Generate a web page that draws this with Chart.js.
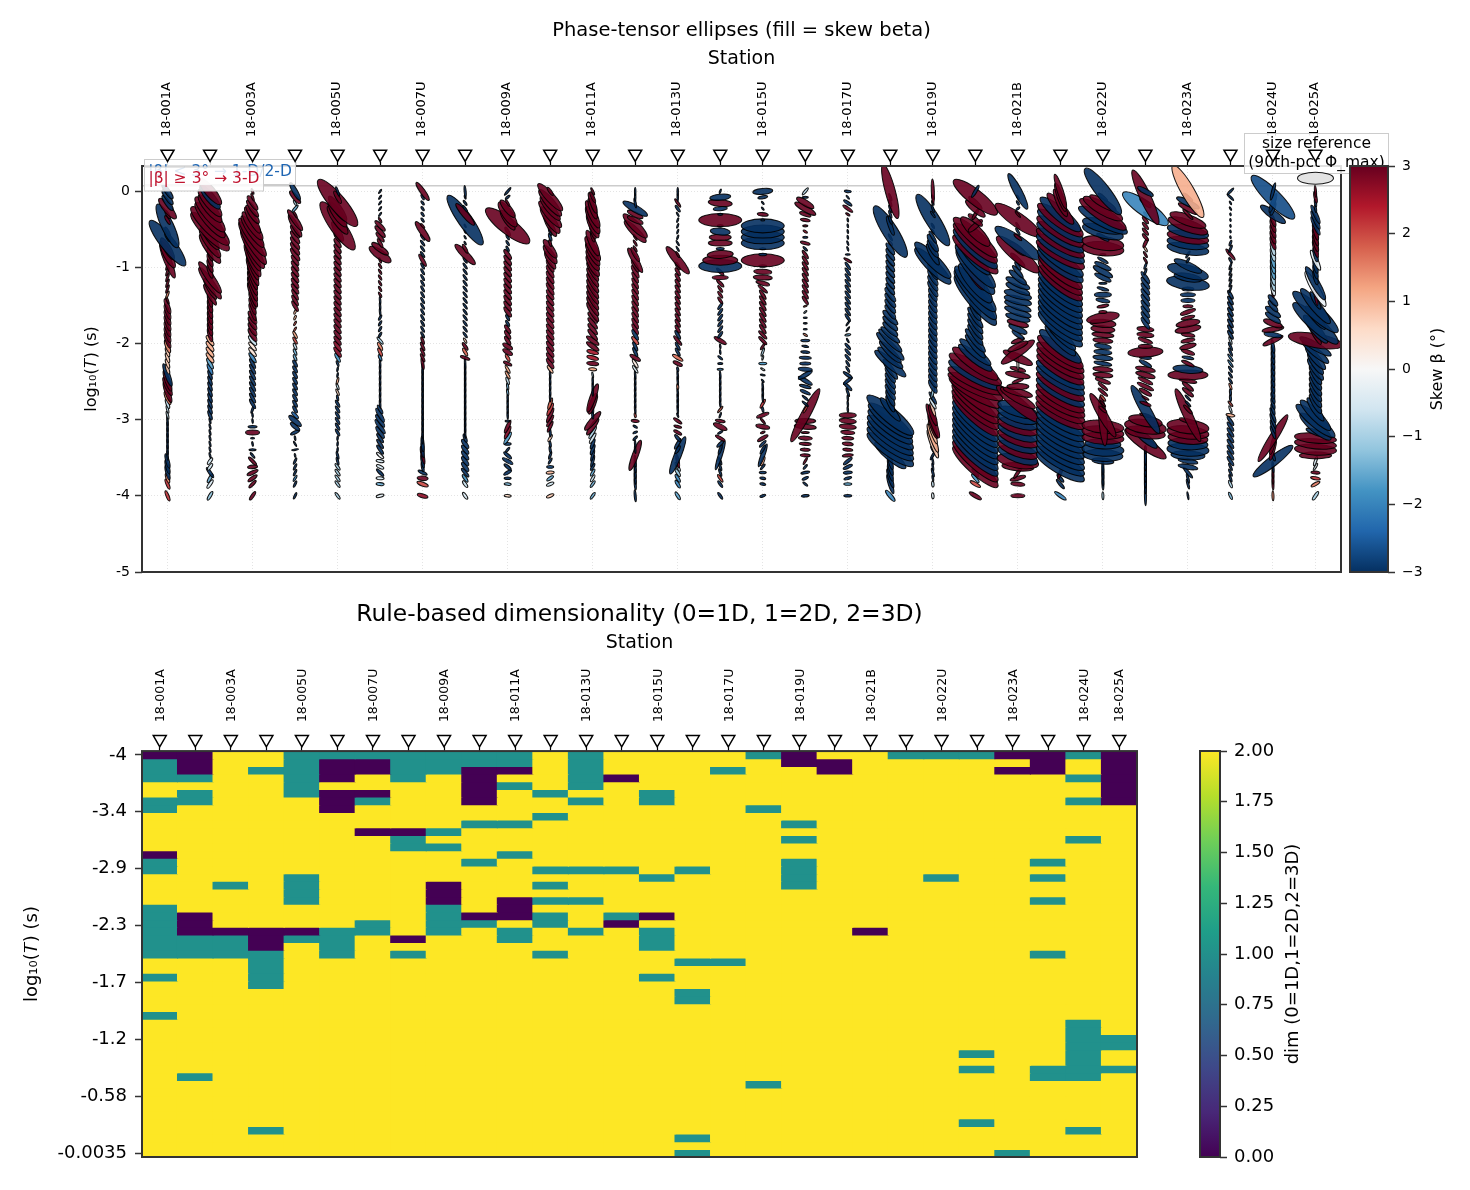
<!DOCTYPE html>
<html>
<head>
<meta charset="utf-8">
<title>Phase tensor</title>
<script src="https://cdn.jsdelivr.net/npm/chart.js@4/dist/chart.umd.min.js"></script>
<style>
  html, body { margin:0; padding:0; background:#fff; overflow:hidden; }
  #wrap { position:relative; width:1470px; height:1190px; }
  canvas { position:absolute; display:block; }
</style>
</head>
<body>
<div id="wrap">
  <canvas id="phase" width="1470" height="600" style="left:0;top:0"></canvas>
  <canvas id="phaseBar" width="125" height="600" style="left:1345px;top:0"></canvas>
  <canvas id="dim" width="1190" height="600" style="left:0;top:590px"></canvas>
  <canvas id="dimBar" width="280" height="600" style="left:1190px;top:590px"></canvas>
</div>
<script>
const stationTicks = ['18-001A','','18-003A','','18-005U','','18-007U','','18-009A','','18-011A','','18-013U','','18-015U','','18-017U','','18-019U','','18-021B','','18-022U','','18-023A','','18-024U','18-025A'];
const ellipseYTicks = [-5,-4,-3,-2,-1,0];
const skewTicks = [-3,-2,-1,0,1,2,3];
const dimTickRows = [0,7.43,14.86,22.29,29.71,37.14,44.57,52];
const dimTickLabels = ['-4','-3.4','-2.9','-2.3','-1.7','-1.2','-0.58','-0.0035'];

/* log10 T of each row, top of the ellipse panel first */
const logT = [-0.0035,-0.08,-0.155,-0.23,-0.305,-0.38,-0.456,-0.531,-0.606,-0.682,-0.757,-0.832,-0.908,-0.983,-1.058,-1.134,-1.209,-1.284,-1.36,-1.435,-1.51,-1.586,-1.661,-1.736,-1.812,-1.887,-1.962,-2.038,-2.113,-2.188,-2.264,-2.339,-2.414,-2.49,-2.565,-2.64,-2.716,-2.791,-2.866,-2.942,-3.017,-3.092,-3.168,-3.243,-3.318,-3.394,-3.469,-3.544,-3.62,-3.695,-3.77,-3.846,-4];

/* per station: [first row, phi max, phi min, tilt, skew], holds until the next entry */
const st00 = [[0,18,5,55,-3],[3,26,8,50,3],[4,10,3,60,3],[6,48,12,65,-3],[7,10,3,60,-3],[9,57,14,52,-3],[10,25,7,60,3],[11,30,8,62,3],[12,38,7,68,3],[13,9,2,-70,3],[18,8,2,-70,1.5],[19,8,2,70,3],[20,16,4,70,3],[27,14,4,70,1.5],[28,10,3,70,0.8],[32,24,5,70,-3],[33,22,5,70,3],[34,20,5,65,3],[35,22,5,70,3],[36,14,4,65,1.6],[37,10,3,70,-0.8],[38,8,2,75,-0.8],[40,10,1.5,85,-3],[47,15,3.5,75,-3],[50,10,3,70,1.5],[51,11,3,68,2.2]];
const st01 = [[0,34,10,50,3],[1,30,9,50,-3],[2,35,10,50,3],[4,45,12,50,3],[6,53,14,45,3],[8,30,8,55,3],[9,35,9,55,3],[11,14,4,70,3],[15,38,8,55,3],[17,24,5,60,3],[19,14,4,75,3],[26,12,4,55,1.1],[30,12,3.5,60,-1.6],[31,12,3.5,65,-2.2],[32,10,3,70,-3],[40,6,1.5,75,-3],[47,8,3,-55,-0.6],[49,12,3,55,-3],[50,10,3,-60,-1.5],[51,10,3,-55,-0.5],[52,10,3,-60,-1.2]];
const st02 = [[0,6,2,70,3],[1,8,2,70,3],[2,17,5,55,3],[3,20,5,55,3],[4,22,6,55,3],[5,30,7,60,3],[6,34,9,55,3],[7,38,9,55,3],[8,46,10,55,3],[9,50,10,58,3],[10,45,10,60,3],[11,36,8,65,3],[13,30,6,68,3],[15,26,5,70,3],[19,18,4,70,3],[22,15,5,60,3],[26,12,4,50,-0.7],[27,11,3.5,50,0.4],[29,12,3.5,55,-2],[30,11,3,60,-3],[38,8,2,-70,-3],[39,5,1.5,85,-3],[41,9,2.5,0,-3],[42,14,5,0,3],[43,4,1.5,0,-3],[44,5,1.5,80,-3],[45,7,2,0,-3],[46,7,2,50,-3],[47,11,3,45,3],[48,10,3.5,-5,3],[49,12,3.5,-25,3],[50,11,3.5,-35,3],[51,10,3,-45,3],[52,10,3,-55,3]];
const st03 = [[0,20,5,60,-3],[1,16,5,50,3],[2,6,2,60,-1],[3,9,2.5,-50,-1.5],[4,8,2,60,3],[5,25,6,55,3],[6,25,6,60,3],[7,15,4.5,55,3],[12,12,4,55,3],[18,12,3.5,60,3],[21,5,2,-65,1],[23,5,1.8,-60,2],[25,8,2.5,60,1.2],[26,8,2.5,60,2],[27,7,2.5,65,-0.8],[28,7,2.5,65,-1.5],[30,8,3,60,-3],[39,9,3,45,-2.5],[40,16,5,40,-3],[41,12,4,40,-3],[42,10,3,-25,-3],[43,5,1.5,80,-3],[44,6,1.5,60,-3],[45,7,1.5,-10,-3],[46,4,1.5,80,-3],[47,7,2,-65,-3],[50,7,2,-60,-2],[51,7,2,-65,-3]];
const st04 = [[0,10,2,70,-3],[1,14,4,60,3],[2,60,16,50,3],[3,30,8,55,3],[4,30,9,55,3],[5,34,9,55,3],[6,58,15,55,3],[7,22,6,60,3],[8,11,4,55,3],[27,12,4,55,2.8],[29,10,3,60,-1.8],[30,6,2,70,-3],[31,5,1.5,-80,-3],[33,7,2,-75,1.2],[34,7,2,70,-0.8],[35,7,2,65,0.7],[36,6,2,80,-3],[37,8,2.5,60,-3],[43,5,1.5,-85,-3],[46,8,2,75,-3],[48,8,2.5,55,-1]];
const st05 = [[0,5,1.5,-55,-3],[5,6,2,60,3],[6,14,4,45,3],[7,15,4.5,50,3],[8,12,3.5,50,3],[9,10,3,60,3],[10,20,6,35,3],[11,26,9,35,3],[12,6,2,70,3],[13,6,2,60,3],[19,8,1.5,85,-3],[22,6,2,-60,-3],[26,9,2.5,50,-1],[27,9,3,60,1.5],[28,9,3,65,2],[29,7,2.5,65,-2],[30,9,1.5,85,-3],[38,10,3,60,-3],[39,16,4,60,-3],[40,15,4,55,-3],[41,17,4,55,-3],[42,14,4,55,-3],[43,11,3,55,-3],[46,9,3,40,-0.2],[47,8,3,10,-0.5],[48,8,3,25,-0.5],[49,10,3,45,-3],[50,8,3,5,-0.5],[51,8,3,5,-1.5],[52,8,3,-15,-0.3]];
const st06 = [[0,22,5,55,3],[1,6,2,60,-3],[2,5,2,55,-3],[6,6,2,50,3],[7,24,6,55,3],[8,7,2,55,-3],[12,14,3.5,60,3],[13,7,2,60,-3],[26,8,2.5,70,3],[27,9,2.5,65,3],[30,12,2.5,80,3],[31,12,1.5,88,-3],[44,16,3,85,-3],[46,18,3,78,3],[47,14,3,80,-3],[48,10,2.5,80,-3],[49,10,3,25,-3],[50,11,4.5,5,3],[51,12,4,20,2],[52,11,4,15,2.7]];
const st07 = [[0,12,2,85,-3],[1,4,1.5,70,-3],[2,6,2,55,-3],[3,8,2,55,-3],[4,28,6,50,3],[5,60,14,55,-3],[6,4,1.5,60,-3],[10,10,3,60,3],[11,28,7,45,3],[12,7,2,55,-3],[26,6,2,60,0.8],[27,9,3,55,3],[28,9,3,60,1.8],[29,10,3,20,3],[30,12,1.5,88,-3],[43,9,3,70,-3],[44,11,4,55,-3],[49,11,3,50,-3],[50,9,3,55,-1.8],[51,8,3,55,-0.7],[52,8,3,55,-0.5]];
const st08 = [[0,10,2,-50,-3],[1,6,2,-40,-3],[2,8,2,60,3],[3,22,7,50,3],[4,30,10,55,3],[5,24,7,55,3],[6,55,16,38,3],[7,10,3,60,3],[8,6,2,60,-3],[11,12,4,55,3],[22,7,2.5,60,-3],[24,10,3.5,55,3],[27,11,4.5,30,3],[29,8,3,60,2],[30,9,3,25,3],[31,9,2.5,60,1.2],[33,8,2.5,70,-0.8],[34,7,2,80,-1.5],[36,8,1.5,88,-3],[40,5,2,0,-3],[41,14,3.5,-65,3],[42,14,3.5,-65,2.8],[43,14,3.5,-60,-1.7],[44,7,2.5,0,-2.5],[45,6,2,-50,-3],[46,10,3,40,-3],[47,12,3.5,30,-3],[48,9,3,40,-3],[49,9,3,-30,-3],[50,7,2.5,0,-3],[51,7,2.5,5,-1.4],[52,7,2.5,5,0.6]];
const st09 = [[0,10,3,55,3],[1,36,9,48,3],[2,34,9,50,3],[3,30,8,50,3],[4,34,9,50,3],[5,32,9,55,3],[6,24,6,60,3],[7,8,2.5,70,-3],[9,7,2.5,75,3],[10,22,7,55,3],[12,20,6,60,3],[13,14,4,60,3],[18,12,4,55,3],[31,9,3,55,1],[32,8,1.5,85,-3],[37,12,3,-70,1.8],[38,14,3.5,-65,2.2],[39,16,3.5,-65,3],[40,13,3,-60,3],[41,12,3,-65,3],[42,9,2,85,-3],[43,8,2.5,-60,0.7],[44,7,2,80,-3],[46,8,2,-70,-3],[47,7,2,-60,-3],[48,7,2.5,0,-2.5],[49,8,3,-5,1],[50,8,3,-35,-1.5],[51,8,3,-25,-0.6],[52,8,3,-25,0.8]];
const st10 = [[0,8,2,65,3],[1,12,3,65,3],[2,22,5,70,3],[3,22,6,70,3],[4,30,8,65,3],[6,26,7,65,3],[7,16,4,70,3],[8,10,3,70,3],[9,28,7,65,3],[10,28,8,60,3],[11,26,7,60,3],[12,24,7,60,3],[14,22,5,60,3],[22,14,4,50,3],[26,15,4.5,35,3],[28,12,4,15,2.5],[30,12,4,5,3],[31,8,3,5,1.2],[32,6,1.5,80,-1],[33,8,1.5,88,-3],[36,30,6,-70,3],[37,22,6,-70,3],[38,8,2,85,-3],[40,24,6,-50,3],[41,20,5,-55,3],[42,14,3,-60,-1],[43,12,3,-60,-0.6],[44,11,3,-70,-3],[46,12,2.5,-75,-3],[48,8,2.5,-60,-3],[49,8,2.5,-60,-1.6],[50,8,2.5,-60,-0.7],[51,8,2.5,-55,-1.5]];
const st11 = [[0,8,1.5,90,-3],[2,10,2,80,-3],[3,28,7,30,-3],[4,17,5,25,3],[6,33,9,45,3],[7,30,8,45,3],[8,7,2,60,3],[11,16,4,60,3],[12,28,6,60,3],[13,14,4,60,3],[15,12,3.5,60,3],[25,12,3.5,60,-3],[26,10,3.5,50,2],[27,10,3,65,-3],[29,12,4,30,3],[30,10,3,60,0.3],[31,9,2.5,55,-0.5],[32,9,1.5,85,-3],[39,5,2,80,2],[40,8,3,5,3],[41,5,2,30,-3],[42,5,2,-25,-3],[43,6,2,-45,-3],[44,8,1.5,85,-3],[46,32,6,-70,3],[47,12,2,85,-3]];
const st12 = [[0,8,1.5,90,-3],[2,10,2.5,55,3],[3,8,2.5,55,-3],[4,5,1.5,60,-3],[5,5,1.5,-70,-3],[9,6,1.5,60,-3],[11,7,2,60,3],[12,35,8,50,3],[13,9,3,60,3],[25,10,3,60,-3],[26,12,3,50,3],[27,9,2.5,60,-3],[29,12,3.5,30,1.7],[30,10,3.5,25,3],[31,5,2,80,-3],[32,9,1.5,85,-3],[34,6,2,85,1.5],[35,9,1.5,85,-3],[39,5,1.5,70,-3],[40,10,3,35,3],[41,8,2.5,15,3],[42,9,3,30,3],[43,9,3,50,-3],[44,12,3,-60,-3],[45,9,3,-60,-3],[46,40,7,-68,-3],[47,14,3,80,3],[48,10,2.5,60,-1],[49,9,3,60,-1.2],[50,9,3,60,-2],[52,9,3,60,-1.6]];
const st13 = [[0,5,1.5,-70,-3],[1,21,6,-5,-3],[2,24,7,5,3],[3,14,4,-5,-3],[4,5,2,0,-3],[5,43,13,0,3],[6,6,2.5,0,-3],[7,20,7,5,-3],[8,22,6,0,3],[9,24,6,0,3],[10,8,2.5,0,-3],[11,26,8,-3,3],[12,35,10,0,3],[13,43,13,0,-3],[14,10,3,45,3],[15,16,4,0,3],[16,10,3,45,3],[17,8,2.5,55,3],[20,8,2.5,-55,-3],[26,14,4,30,3],[27,5,1.5,85,-3],[29,6,2,40,-3],[30,5,2,0,-3],[31,6,2,0,-2],[32,8,1.5,85,-3],[38,8,2,-50,1.8],[39,6,1.5,-70,-3],[40,10,3,10,3],[41,15,5,25,3],[42,6,2,-30,-3],[43,11,3,30,3],[44,9,3,-45,-3],[45,10,2.5,-70,-3],[46,30,4,-72,-3],[47,8,2,70,-3],[50,9,2.5,55,2],[51,8,2.5,55,-3]];
const st14 = [[0,20,6,-5,-3],[1,10,3,-10,-3],[2,4,1.5,50,-3],[4,11,3.5,5,3],[5,4,2,0,-3],[6,43,14,0,-3],[7,43,13,0,-3],[10,6,2,0,-3],[11,8,2.5,0,-3],[12,43,13,0,3],[13,8,2.5,0,-3],[14,18,5,3,3],[15,19,5,3,3],[16,14,4,15,3],[17,12,3,40,3],[18,11,3,55,3],[25,11,3,45,3],[27,8,2,-55,3],[28,9,2,-70,-1],[29,5,1.5,-75,-0.7],[30,8,2.5,0,-1.8],[31,5,1.5,30,-0.5],[32,5,1.5,10,-3],[33,4,1.5,50,-3],[34,9,1.5,85,-3],[37,10,2.5,-60,2.2],[38,6,2,80,-3],[39,13,3.5,-20,3],[40,8,2,50,3],[41,14,4.5,10,3],[42,5,2,-20,3],[43,12,3.5,-30,3],[44,9,2.5,-45,-3],[45,10,2.5,-60,-3],[46,24,4,-70,-3],[47,10,3,-70,1.2],[48,7,2,-50,-3],[49,7,2.5,0,-3],[50,6,2.5,10,-3],[52,6,2.5,-20,-3]];
const st15 = [[0,9,2.5,-50,-0.8],[1,6,2,0,-3],[2,20,6,30,3],[3,24,6,30,3],[4,12,3.5,20,3],[5,10,3,10,3],[6,5,2,0,3],[7,5,2,30,2.5],[8,5,2,0,-3],[9,10,3,15,3],[10,6,2,45,-3],[11,10,3,55,3],[20,4,1.5,-20,1.8],[21,4,1.5,-40,-1],[22,4,1.5,0,-3],[25,5,2,30,1.5],[26,9,2.5,0,-3],[27,7,2,10,-3],[28,9,2.5,5,-3],[29,12,3,3,-3],[30,11,3,0,-3],[31,14,4,5,-3],[32,16,4,-30,-3],[33,16,4,30,-3],[34,12,3,15,-3],[35,11,3,25,-3],[36,8,2,40,-3],[38,8,2,-60,2],[39,60,9,-62,3],[40,21,5,0,3],[41,22,5,5,3],[42,8,2,0,3],[43,14,4,3,3],[44,12,3,3,3],[45,10,3,3,3],[47,8,2,-60,3],[48,6,2,-50,-3],[49,9,2.5,-10,-3],[50,7,2.5,-25,-3],[51,6,2,40,-3],[52,8,2.5,-5,-3]];
const st16 = [[0,7,2.5,5,-3],[1,5,1.5,50,-3],[2,10,3,35,-3],[3,12,3,35,3],[4,5,2,30,3],[5,4,1.5,80,-3],[9,5,1.5,70,-3],[11,5,1.5,0,-3],[12,9,2.5,30,3],[13,9,2.5,55,-3],[23,6,1.5,-55,-3],[25,6,2,-10,-1.5],[26,5,1.5,60,-3],[27,8,2.5,50,-3],[30,7,2,60,-3],[32,11,3,35,-3],[33,11,3,-40,-3],[34,11,3,45,-3],[35,9,2,70,-3],[36,6,1.5,85,-3],[39,17,5,0,3],[40,17,5,5,3],[42,14,4,5,3],[43,12,3.5,3,3],[44,11,3.5,5,3],[45,10,3,5,3],[46,11,3,-5,3],[47,11,3,-40,-3],[48,10,3,-25,-3],[49,9,3,-5,-3],[50,8,2.5,-15,-3],[51,8,2.5,0,-1.6],[52,8,2.5,0,-3]];
const st17 = [[0,56,10,75,3],[1,8,2,70,-3],[5,9,2.5,70,-3],[6,20,4,70,-3],[7,60,15,58,-3],[8,8,2,60,-3],[9,6,2.5,50,2],[10,14,4.5,55,-3],[18,17,5,55,-3],[22,20,6,45,-3],[25,24,6,40,-3],[26,32,7,45,-3],[27,38,8,45,-3],[28,30,7,45,-3],[29,32,8,40,-3],[30,40,9,40,-3],[31,24,6,55,-3],[32,18,5,60,-3],[36,18,5,65,-3],[38,30,7,50,-3],[39,60,15,40,-3],[40,55,14,38,-3],[41,55,14,37,-3],[42,56,14,36,-3],[44,56,14,35,-3],[46,40,10,40,-3],[47,18,4,75,-3],[50,20,4,72,-3],[52,14,4,50,-2]];
const st18 = [[0,25,3,88,3],[1,5,2,70,-3],[3,8,2,70,-3],[4,8,2,55,-3],[5,60,14,58,-3],[6,6,2,60,-3],[8,14,3,60,-3],[9,20,6,60,-3],[11,24,6,60,-3],[12,50,12,45,-3],[14,18,5,60,-3],[18,15,5,60,-3],[35,12,2.5,-75,-1.2],[36,14,3,60,-3],[37,12,3,60,-0.6],[38,14,3,70,0.8],[39,22,5,70,3],[40,36,6,70,3],[41,25,5,70,3],[42,24,4,70,0.9],[43,30,5,70,1.1],[44,30,5,70,0.8],[45,8,2,60,-3],[46,10,2,-60,-3],[47,8,1.5,80,-3],[49,9,2,75,-3],[50,6,1.5,80,-3],[51,6,2.5,85,-0.8],[52,6,2.5,85,-0.4]];
const st19 = [[0,14,3,-60,-3],[1,55,15,38,3],[2,18,5,45,3],[3,25,7,40,3],[4,12,3,-60,3],[5,18,5,40,3],[6,18,5,-40,3],[7,40,12,45,3],[8,58,14,42,3],[10,58,14,42,-3],[11,58,14,40,3],[12,40,10,45,-3],[13,58,14,48,-3],[14,58,14,50,-3],[15,30,8,55,3],[16,50,14,50,-3],[17,60,14,48,-3],[18,64,14,50,-3],[20,20,6,60,-3],[22,25,6,55,-3],[26,30,7,50,-3],[28,40,9,40,-3],[29,42,10,38,-3],[30,55,13,35,3],[31,60,14,30,3],[32,60,14,28,-3],[33,60,14,25,3],[35,60,14,30,3],[36,60,14,38,3],[37,60,14,40,3],[39,60,14,42,3],[40,60,14,42,-3],[47,60,14,42,3],[49,10,3,50,-3],[50,11,3,50,-1.8],[51,12,3.5,30,2],[52,14,4,30,3]];
const st20 = [[0,40,8,62,-3],[1,5,2,60,-3],[3,5,2,-40,-3],[4,8,2,50,3],[5,55,14,35,3],[6,8,2,60,-3],[8,10,3,40,3],[9,55,14,35,-3],[10,20,6,40,3],[11,55,14,40,3],[12,20,5,45,3],[13,10,3,55,-3],[14,16,4,50,-3],[15,22,6,40,-3],[16,26,7,25,-3],[18,28,8,15,-3],[20,28,7,20,-3],[22,25,7,15,-3],[23,22,6,15,3],[24,20,6,25,-3],[25,14,4,35,-3],[26,14,4,-20,3],[27,22,6,-25,3],[28,40,9,-35,3],[29,32,8,25,3],[30,14,2,88,0.2],[31,16,4,15,3],[32,25,6,10,3],[33,12,3,-20,3],[34,22,6,0,3],[35,30,7,15,3],[36,40,9,30,3],[37,55,12,40,3],[38,42,14,18,-3],[41,42,14,18,3],[42,42,14,20,-3],[43,42,14,20,3],[44,42,14,20,-3],[45,42,14,20,3],[46,42,14,20,-3],[47,42,14,10,3],[48,32,8,5,3],[49,14,3,-55,3],[50,16,4,-15,3],[51,14,4,5,3],[52,14,4,0,3]];
const st21 = [[0,36,6,72,3],[1,30,6,70,3],[2,30,7,65,3],[3,40,10,50,3],[4,52,13,40,-3],[5,55,14,35,3],[6,55,14,35,-3],[7,55,14,32,3],[8,55,14,32,-3],[9,55,14,30,3],[10,55,14,30,-3],[11,55,14,30,3],[12,55,14,35,-3],[14,55,14,38,3],[17,55,14,38,-3],[25,42,10,45,-3],[27,52,13,38,-3],[28,55,14,35,3],[29,55,14,32,3],[32,55,14,30,-3],[34,55,14,30,3],[35,55,14,30,-3],[36,55,14,30,3],[37,55,14,28,3],[40,55,14,30,-3],[49,14,3,-70,3],[50,10,3,50,-3],[51,12,3,50,-3],[52,14,3.5,35,-2]];
const st22 = [[0,58,14,52,-3],[1,12,3,40,-3],[2,30,8,30,3],[3,45,12,30,3],[4,55,13,33,3],[5,55,13,28,-3],[6,42,13,15,-3],[8,14,4,30,-3],[9,42,14,8,3],[10,42,14,5,3],[11,6,2,0,-3],[12,12,3,30,-3],[13,18,5,25,-3],[14,22,6,30,-3],[15,18,5,25,-3],[16,8,2,0,-3],[17,12,3,15,-3],[18,17,5,0,-3],[19,14,4,10,-3],[20,12,3,-10,3],[21,8,3,0,3],[22,33,10,-10,3],[23,26,8,5,3],[24,24,7,5,3],[25,22,5,5,3],[26,20,5,5,3],[27,17,5,10,-3],[28,18,5,5,-3],[29,20,5,5,-3],[30,18,4,10,-3],[31,20,5,5,3],[33,16,4,20,3],[34,12,3,40,3],[36,8,2.5,50,2],[37,8,2,50,3],[38,10,3,40,3],[39,50,9,60,3],[40,50,8,85,3],[41,42,13,5,3],[43,42,12,3,3],[44,36,10,3,-3],[45,42,13,3,-3],[46,40,12,3,-3],[47,22,6,5,-3],[48,16,2,88,-3],[51,12,2,88,-3],[52,8,2,88,-1]];
const st23 = [[0,18,5,30,-3],[1,60,11,65,3],[2,14,4,40,3],[3,55,15,35,-2],[4,6,2,60,-3],[5,9,3,50,3],[9,10,3,-65,3],[10,7,2,60,0.8],[11,7,2,60,3],[13,7,2,-70,-3],[15,14,4,55,-3],[24,17,5,5,3],[26,15,4,20,3],[27,14,4,0,3],[28,35,10,-3,3],[29,12,3,5,-3],[30,14,4,30,-3],[31,20,5,10,3],[32,20,5,15,3],[33,16,4,25,3],[34,18,4,25,3],[35,14,4,30,3],[36,8,2,30,3],[37,12,3,20,3],[38,55,10,60,-3],[39,12,3,15,3],[40,34,11,10,3],[41,42,14,8,3],[42,40,12,8,3],[43,30,8,40,-3],[44,50,12,35,3],[45,8,2,89,-3],[46,20,2,89,-3]];
const st24 = [[0,60,13,60,1.1],[1,12,3,40,3],[2,25,6,25,-3],[3,22,5,30,3],[4,14,3,45,3],[5,38,11,20,3],[6,42,12,20,3],[7,42,12,12,-3],[8,42,12,10,3],[9,42,12,8,-3],[11,8,2,-60,-3],[12,6,2,-60,-3],[13,30,8,25,-3],[14,42,13,15,-3],[15,28,8,10,-3],[16,43,13,8,-3],[17,12,4,0,-3],[18,15,4,0,-3],[19,14,4,0,-3],[20,10,3,0,3],[21,16,4,-20,3],[22,14,3.5,-15,3],[23,24,7,-10,3],[24,26,7,-10,3],[25,14,4,10,3],[26,14,4,-10,3],[27,17,5,-15,3],[28,14,4,20,3],[29,12,3,10,-3],[30,14,3.5,25,3],[31,30,8,5,-3],[32,40,10,0,3],[33,18,4,10,3],[34,14,4,40,3],[36,8,2,45,-3],[38,12,3,45,3],[39,58,9,65,3],[40,18,4,15,3],[41,42,14,6,3],[42,42,13,6,3],[43,40,12,5,3],[44,40,12,3,-3],[45,42,13,3,-3],[46,34,9,3,-3],[47,20,5,10,-3],[49,14,3,50,-3],[50,10,2,75,-3],[52,8,1.5,80,-3]];
const st25 = [[0,9,2,-45,-3],[1,9,2,45,-3],[2,4,1.5,60,-3],[4,3,1.5,80,-3],[9,6,2,-70,-3],[10,8,2,-65,-3],[11,14,3,50,3],[12,6,2,60,-3],[13,8,1.5,-70,-3],[18,10,3,60,-3],[26,8,2,70,-0.8],[27,9,2,65,-3],[29,9,2,55,-2],[31,7,2,60,-3],[34,7,2,70,1.5],[35,7,2,85,-3],[37,7,2,50,2],[38,8,2,70,-0.7],[39,9,3,10,1.1],[40,11,3,55,-3],[48,8,2,65,-3],[50,8,2,70,-3],[51,8,2.5,65,-1],[52,8,2.5,65,-1.4]];
const st26 = [[0,18,3,-75,-3],[1,60,15,45,-2.7],[2,20,4,-70,-3],[3,14,4,-70,-3],[4,30,8,35,-3],[5,14,4,70,3],[10,14,4,75,-0.8],[12,16,4,78,-1.6],[15,16,4,80,-1],[17,14,4,78,-0.4],[18,6,2,80,3],[19,14,5,50,-3],[21,18,6,35,-3],[23,20,6,20,3],[24,22,5,-10,3],[25,18,5,10,-3],[26,22,5,-25,3],[27,14,3,80,-3],[36,12,3,75,-3],[39,16,3,70,-3],[41,14,3,70,-3],[43,55,8,-58,3],[44,22,4,-75,3],[46,12,3,70,-3],[47,50,10,-38,-3],[48,12,2,85,-3],[49,12,2,88,3],[52,10,2,88,1.5]];
const st27 = [[0,12,2,85,3],[1,12,3,80,3],[2,8,2,80,-3],[4,20,4,65,-3],[7,18,4,75,3],[11,15,4,75,-3],[12,22,5,65,-0.3],[13,15,4,75,-3],[16,38,8,60,-3],[17,40,8,60,-0.2],[18,22,3,80,3],[19,20,5,60,-3],[20,45,10,50,-3],[21,60,14,42,-3],[22,30,7,50,-3],[23,60,14,42,-3],[24,36,9,50,-3],[25,22,5,60,3],[26,55,14,10,3],[27,36,8,30,-3],[28,34,8,40,-3],[29,30,8,50,-3],[30,26,7,55,-3],[32,22,6,60,-3],[38,28,7,55,-3],[39,42,10,45,-3],[40,50,12,40,-3],[41,40,11,40,-3],[42,20,5,20,-3],[43,42,10,5,3],[45,42,11,3,3],[46,32,7,0,3],[47,10,2.5,-70,-0.5],[48,8,2,-60,-0.5],[49,9,3,5,3],[50,10,3,10,2.2],[51,10,3,-30,1.6],[52,10,3,-55,-1]];
const stationRuns = [st00,st01,st02,st03,st04,st05,st06,st07,st08,st09,st10,st11,st12,st13,st14,st15,st16,st17,st18,st19,st20,st21,st22,st23,st24,st25,st26,st27];

/* dimensionality, rows with value 0 and value 1 for each column; everything else is 2 */
const dimZero = [[0,13],[0,1,2,21,22,23],[23],[23,24,25],[23],[1,2,3,5,6,7],[1,2,5,10],[10,24],[17,18,19],[2,3,4,5,6,21],[2,19,20,21],[],[],[3,22],[21],[],[],[],[0,1],[1,2],[23],[],[],[],[0,2],[0,1,2],[],[0,1,2,3,4,5,6]];
const dimOne = [[1,2,3,6,7,14,15,20,21,22,23,24,25,26,29,34],[3,5,6,24,25,26,42],[17,24,25,26],[2,26,27,28,29,30,49],[0,1,2,3,4,5,16,17,18,19,24],[0,23,24,25,26],[0,6,22,23],[0,1,2,3,11,12,26],[0,1,2,10,12,20,21,22,23],[0,1,9,14,22],[0,1,4,9,13,23,24],[5,8,15,17,19,21,22,26],[0,1,2,3,4,6,15,19,23],[15,21],[5,6,16,23,24,25,29],[15,27,31,32,50,52],[2,27],[0,7,43],[9,11,14,15,16,17],[],[],[0],[0,16],[0,39,41,48],[52],[14,16,19,26,41,42],[0,3,6,11,35,36,37,38,39,40,41,42,49],[37,38,41]];

const FONT = '"DejaVu Sans", sans-serif';
const INK = '#333';
const RDBU = ['#053061','#2166ac','#4393c3','#92c5de','#d1e5f0','#f7f7f7','#fddbc7','#f4a582','#d6604d','#b2182b','#67001f'];
const VIRIDIS = ['#440154','#482878','#3e4989','#31688e','#26828e','#1f9e89','#35b779','#6ece58','#b5de2b','#fde725'];
const DIM_COLOR = ['#440154','#21918c','#fde725'];
Chart.defaults.font.family = FONT;
Chart.defaults.color = '#000';
Chart.defaults.animation = false;

function hexRgb(h) { return [1, 3, 5].map(i => parseInt(h.substr(i, 2), 16)); }
function skewColor(v) {
  const t = (Math.max(-3, Math.min(3, v)) + 3) / 6 * (RDBU.length - 1);
  const i = Math.min(Math.floor(t), RDBU.length - 2);
  const a = hexRgb(RDBU[i]), b = hexRgb(RDBU[i + 1]), f = t - i;
  const c = a.map((x, j) => Math.round(x + (b[j] - x) * f));
  return `rgba(${c[0]},${c[1]},${c[2]},0.9)`;
}

/* one point per row, bottom rows first so the upper ellipses land on top */
const ellipsePoints = [];
stationRuns.forEach((runs, s) => {
  const rows = [];
  runs.forEach((r, i) => {
    const end = i + 1 < runs.length ? runs[i + 1][0] : logT.length;
    for (let k = r[0]; k < end; k++) {
      rows.push({ x: s, y: logT[k], phiMax: r[1], phiMin: r[2], tilt: r[3], skew: r[4] });
    }
  });
  rows.reverse().forEach(p => ellipsePoints.push(p));
});
const sizeRef = [{ x: 27, y: 0.17, phiMax: 36, phiMin: 12, tilt: 0 }];

function drawEllipse(ctx, chart, p, fill) {
  const x = chart.scales.x.getPixelForValue(p.x), y = chart.scales.y.getPixelForValue(p.y);
  ctx.beginPath();
  ctx.ellipse(x, y, p.phiMax / 2, p.phiMin / 2, p.tilt * Math.PI / 180, 0, Math.PI * 2);
  ctx.fillStyle = fill;
  ctx.fill();
  ctx.lineWidth = 1.05;
  ctx.strokeStyle = 'rgba(0,0,0,0.9)';
  ctx.stroke();
}

function noteBox(ctx, x, y, w, h, lines, color) {
  ctx.fillStyle = 'rgba(255,255,255,0.85)';
  ctx.fillRect(x, y, w, h);
  ctx.strokeStyle = '#ccc';
  ctx.lineWidth = 1;
  ctx.strokeRect(x, y, w, h);
  ctx.fillStyle = color;
  ctx.font = '15.5px ' + FONT;
  ctx.textAlign = 'center';
  ctx.textBaseline = 'middle';
  lines.forEach((t, i) => ctx.fillText(t, x + w / 2, y + h / 2 + (i - (lines.length - 1) / 2) * 19));
}

/* chart.js skips points outside the plot area, so the station markers are drawn here */
const stationMarkPlugin = {
  id: 'stationMarks',
  afterDraw(chart) {
    chart.data.datasets.forEach((d, i) => {
      if (d.stationMarks) chart.getDatasetMeta(i).data.forEach(p => p.draw(chart.ctx));
    });
  }
};

const ellipsePlugin = {
  id: 'ellipses',
  afterDatasetsDraw(chart) {
    const ctx = chart.ctx, a = chart.chartArea;
    ctx.save();
    ctx.beginPath();
    ctx.rect(a.left, a.top, a.right - a.left, a.bottom - a.top);
    ctx.clip();
    ellipsePoints.forEach(p => drawEllipse(ctx, chart, p, skewColor(p.skew)));
    ctx.restore();
  },
  afterDraw(chart) {
    const ctx = chart.ctx;
    ctx.save();
    noteBox(ctx, 144.5, 159.5, 151, 25, ['|β| < 3° → 1-D/2-D'], '#1f66b3');
    noteBox(ctx, 144.5, 167, 119, 24, ['|β| ≥ 3° → 3-D'], '#c0142f');
    noteBox(ctx, 1244.5, 133.5, 144, 40, ['size reference', '(90th-pct Φ_max)'], '#000');
    sizeRef.forEach(p => drawEllipse(ctx, chart, p, '#e3e3e3'));
    ctx.restore();
  }
};

const framePlugin = {
  id: 'frame',
  afterDatasetsDraw(chart) {
    const ctx = chart.ctx, a = chart.chartArea;
    ctx.save();
    ctx.strokeStyle = INK;
    ctx.lineWidth = 2;
    ctx.strokeRect(a.left, a.top, a.right - a.left, a.bottom - a.top);
    ctx.restore();
  }
};

const barTitlePlugin = {
  id: 'barTitle',
  afterDraw(chart, args, opts) {
    const ctx = chart.ctx, a = chart.chartArea;
    ctx.save();
    ctx.translate(opts.x, (a.top + a.bottom) / 2);
    ctx.rotate(-Math.PI / 2);
    ctx.font = opts.size + 'px ' + FONT;
    ctx.fillStyle = '#000';
    ctx.textAlign = 'center';
    ctx.textBaseline = 'middle';
    ctx.fillText(opts.text, 0, 0);
    ctx.restore();
  }
};

/* ---------- ellipse panel ---------- */
new Chart(document.getElementById('phase'), {
  type: 'scatter',
  data: { datasets: [
    { data: ellipsePoints, pointRadius: 0 },
    { data: [{ x: -0.6, y: 0.07 }, { x: 27.6, y: 0.07 }], showLine: true, pointRadius: 0, borderColor: '#ccc', borderWidth: 1.5 },
    { stationMarks: true, data: stationTicks.map((t, i) => ({ x: i, y: 0.488 })), clip: false, pointStyle: 'triangle', rotation: 180,
      pointRadius: 7.5, backgroundColor: '#fff', borderColor: '#000', borderWidth: 1.5 }
  ] },
  options: {
    responsive: false, devicePixelRatio: 1,
    layout: { padding: { left: 70, right: 129, bottom: 28, top: 0 } },
    plugins: {
      legend: { display: false }, tooltip: { enabled: false },
      title: { display: true, text: 'Phase-tensor ellipses (fill = skew beta)', fullSize: false,
        font: { size: 19.5, weight: 'normal' }, padding: { top: 19, bottom: 5 } }
    },
    scales: {
      x: {
        type: 'linear', position: 'top', min: -0.6, max: 27.6,
        afterBuildTicks(s) { s.ticks = stationTicks.map((t, i) => ({ value: i })); },
        afterFit(s) { s.height = 118.6; },
        ticks: { autoSkip: false, minRotation: 90, maxRotation: 90, padding: 25, labelOffset: 15, font: { size: 13 },
          callback: v => stationTicks[v] },
        grid: { tickLength: 4, tickColor: '#000', tickWidth: 1.2, lineWidth: 0.8,
          color: c => (c.tick && c.tick.value % 2 !== 0 && c.tick.value !== 27) ? 'rgba(0,0,0,0)' : '#ddd' },
        border: { display: false, dash: [1, 2] },
        title: { display: true, text: 'Station', font: { size: 19 }, padding: 0 }
      },
      y: {
        min: -5, max: 0.33,
        afterBuildTicks(s) { s.ticks = ellipseYTicks.map(v => ({ value: v })); },
        afterFit(s) { s.width = 72; },
        ticks: { font: { size: 14 }, padding: 5, callback: v => String(v) },
        grid: { tickLength: 7, tickColor: INK, tickWidth: 1.5, lineWidth: 0.8, color: '#ddd' },
        border: { display: false, dash: [1, 2] },
        title: { display: true, text: 'log₁₀(𝑇) (s)', font: { size: 16 }, padding: { top: 12, bottom: 0 } }
      }
    }
  },
  plugins: [ellipsePlugin, framePlugin, stationMarkPlugin]
});

/* ---------- dimensionality heat map ---------- */
const rowIds = logT.map((v, r) => r);
const dimDatasets = rowIds.map(r => ({
  data: stationTicks.map(() => [r - 0.5, r + 0.5]),
  backgroundColor: stationTicks.map((t, c) => DIM_COLOR[dimZero[c].includes(r) ? 0 : dimOne[c].includes(r) ? 1 : 2]),
  borderWidth: 0, barPercentage: 1, categoryPercentage: 1, grouped: false, inflateAmount: 0.55
}));
new Chart(document.getElementById('dim'), {
  type: 'bar',
  data: { labels: stationTicks, datasets: dimDatasets.concat([
    { type: 'scatter', stationMarks: true, data: stationTicks.map((t, i) => ({ x: i, y: -2.03 })), clip: false, pointStyle: 'triangle', rotation: 180,
      pointRadius: 7.5, backgroundColor: '#fff', borderColor: '#000', borderWidth: 1.5 }
  ]) },
  options: {
    responsive: false, devicePixelRatio: 1,
    layout: { padding: { left: 20, right: 53, bottom: 33, top: 0 } },
    plugins: {
      legend: { display: false }, tooltip: { enabled: false },
      title: { display: true, text: 'Rule-based dimensionality (0=1D, 1=2D, 2=3D)', fullSize: false,
        font: { size: 23.4, weight: 'normal' }, padding: { top: 11, bottom: 3 } }
    },
    scales: {
      x: {
        type: 'category', position: 'top', offset: true,
        afterFit(s) { s.height = 119; },
        ticks: { autoSkip: false, minRotation: 90, maxRotation: 90, padding: 25, labelOffset: 16, font: { size: 12.5 },
          callback: (v, i) => stationTicks[i] },
        grid: { offset: false, drawOnChartArea: false, tickLength: 4, tickColor: '#000', tickWidth: 1.2 },
        border: { display: false },
        title: { display: true, text: 'Station', font: { size: 19 }, padding: 0 }
      },
      y: {
        min: -0.5, max: 52.5, reverse: true,
        afterBuildTicks(s) { s.ticks = dimTickRows.map(v => ({ value: v })); },
        afterFit(s) { s.width = 122; },
        ticks: { font: { size: 18 }, padding: 8, callback: (v, i) => dimTickLabels[i] },
        grid: { drawOnChartArea: false, tickLength: 7, tickColor: INK, tickWidth: 1.5 },
        border: { display: false },
        title: { display: true, text: 'log₁₀(𝑇) (s)', font: { size: 18 }, padding: { top: 2, bottom: 0 } }
      }
    }
  },
  plugins: [framePlugin, stationMarkPlugin]
});

/* ---------- colour bars ---------- */
function colorBar(id, stops, range, tickVals, tickFmt, pad, axisWidth, tickSize, title) {
  new Chart(document.getElementById(id), {
    type: 'bar',
    data: { labels: [''], datasets: [{
      data: [range],
      barPercentage: 1, categoryPercentage: 1, borderWidth: 0,
      backgroundColor(c) {
        const a = c.chart.chartArea;
        if (!a) return stops[0];
        const g = c.chart.ctx.createLinearGradient(0, a.bottom, 0, a.top);
        stops.forEach((s, i) => g.addColorStop(i / (stops.length - 1), s));
        return g;
      }
    }] },
    options: {
      responsive: false, devicePixelRatio: 1,
      layout: { padding: pad },
      plugins: { legend: { display: false }, tooltip: { enabled: false }, barTitle: title },
      scales: {
        x: { display: false },
        y: {
          position: 'right', min: range[0], max: range[1],
          afterBuildTicks(s) { s.ticks = tickVals.map(v => ({ value: v })); },
          afterFit(s) { s.width = axisWidth; },
          ticks: { font: { size: tickSize }, padding: 7, callback: tickFmt },
          grid: { drawOnChartArea: false, tickLength: 7, tickColor: INK, tickWidth: 1.5 },
          border: { display: false }
        }
      }
    },
    plugins: [framePlugin, barTitlePlugin]
  });
}
colorBar('phaseBar', RDBU, [-3, 3], skewTicks, v => String(v).replace('-', '−'),
  { left: 5, top: 166, bottom: 28, right: 0 }, 82, 14, { x: 93, size: 16, text: 'Skew β (°)' });
const dimBarTicks = [0, 0.25, 0.5, 0.75, 1, 1.25, 1.5, 1.75, 2];
colorBar('dimBar', VIRIDIS, [0, 2], dimBarTicks, v => v.toFixed(2),
  { left: 10, top: 161, bottom: 33, right: 0 }, 250, 18, { x: 103, size: 18, text: 'dim (0=1D,1=2D,2=3D)' });
</script>
</body>
</html>
